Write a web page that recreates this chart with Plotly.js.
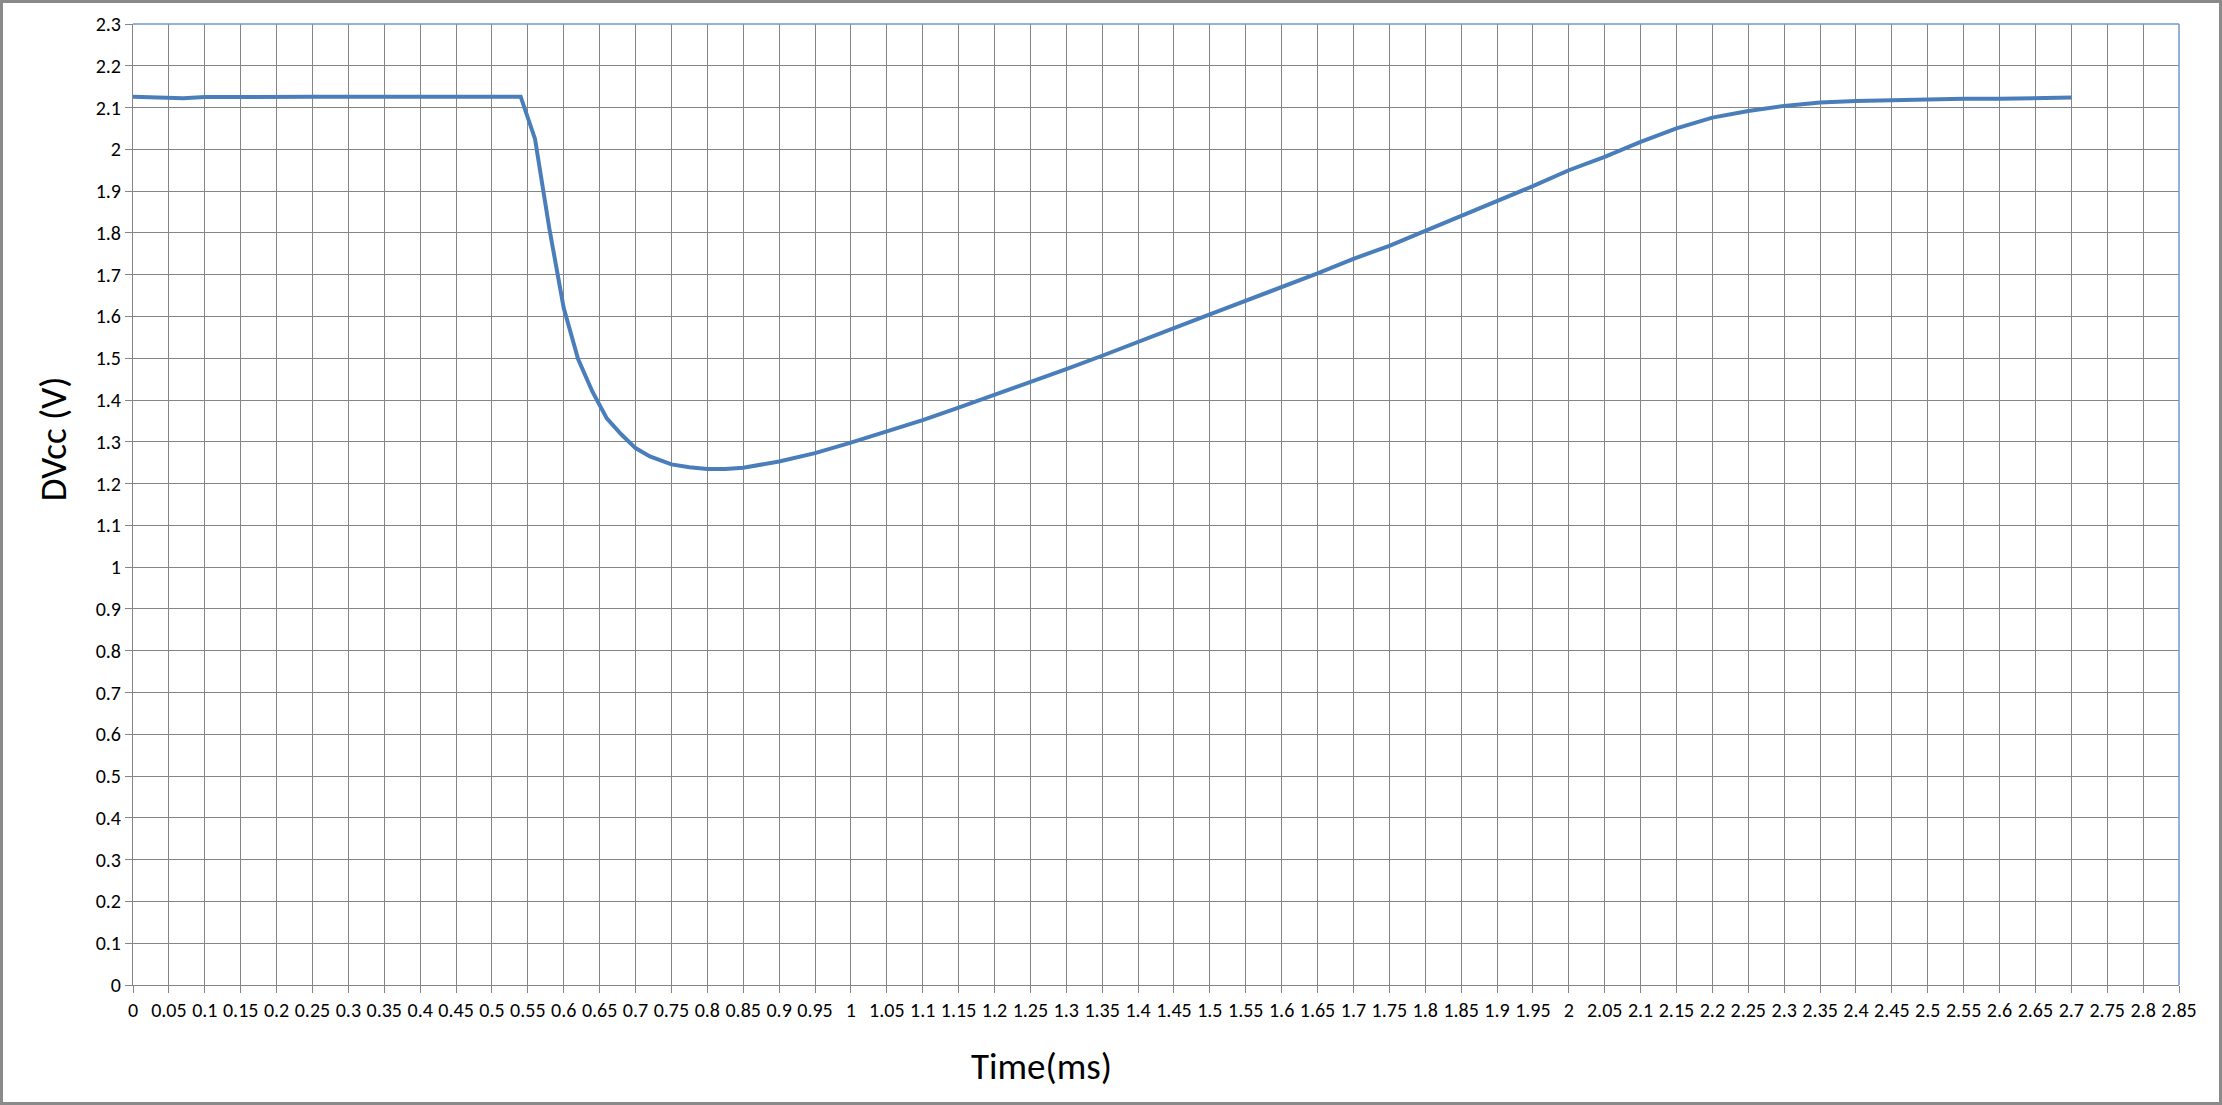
<!DOCTYPE html>
<html>
<head>
<meta charset="utf-8">
<script src="https://cdn.plot.ly/plotly-3.0.1.min.js"></script>
<style>
  html, body { margin: 0; padding: 0; background: #fff; }
  #wrap { position: relative; width: 2222px; height: 1105px; }
  #chart { width: 2222px; height: 1105px; }
  #frame { position: absolute; left: 0; top: 0; width: 2222px; height: 1105px;
           box-sizing: border-box; border: 3px solid #8a8a8a; pointer-events: none; }
</style>
</head>
<body>
<div id="wrap">
  <div id="chart"></div>
  <div id="frame"></div>
</div>
<script>
// Time axis (ms) and measured DVcc (V)
const time = [0, 0.03, 0.05, 0.07, 0.1, 0.15, 0.2, 0.25, 0.3, 0.35, 0.4, 0.45, 0.5, 0.54,
  0.56, 0.58, 0.6, 0.62, 0.64, 0.66, 0.68, 0.7, 0.72, 0.75, 0.775, 0.8, 0.825, 0.85, 0.9,
  0.95, 1.0, 1.05, 1.1, 1.15, 1.2, 1.25, 1.3, 1.35, 1.4, 1.45, 1.5, 1.55, 1.6, 1.65, 1.7,
  1.75, 1.8, 1.85, 1.9, 1.95, 2.0, 2.05, 2.1, 2.15, 2.2, 2.25, 2.3, 2.35, 2.4, 2.45, 2.5,
  2.55, 2.6, 2.65, 2.7];
const dvcc = [2.126, 2.125, 2.123, 2.122, 2.125, 2.126, 2.126, 2.126, 2.126, 2.126, 2.126, 2.126, 2.126, 2.126,
  2.025, 1.81, 1.62, 1.498, 1.42, 1.356, 1.318, 1.285, 1.265, 1.246, 1.239, 1.235, 1.235, 1.238, 1.253,
  1.273, 1.298, 1.324, 1.352, 1.382, 1.412, 1.443, 1.474, 1.506, 1.538, 1.572, 1.605, 1.637, 1.669, 1.703, 1.738,
  1.769, 1.805, 1.840, 1.877, 1.912, 1.950, 1.982, 2.018, 2.050, 2.076, 2.092, 2.104, 2.112, 2.116, 2.118, 2.121,
  2.121, 2.121, 2.123, 2.124];

const xTitle = "Time(ms)";
const yTitle = "DVcc (V)";
const xRange = [0, 2.85];
const yRange = [0, 2.3];

const FONT = "Carlito, Lato, 'Liberation Sans', sans-serif";
const GRID = "#858585";

const trace = {
  x: time, y: dvcc, type: "scatter", mode: "lines",
  line: { color: "#4a7ebb", width: 4 },
  hoverinfo: "x+y"
};

const layout = {
  width: 2222, height: 1105,
  margin: { l: 133, r: 43, t: 24, b: 120, pad: 0 },
  paper_bgcolor: "#fff", plot_bgcolor: "#fff",
  showlegend: false,
  font: { family: FONT, color: "#000", size: 20 },
  xaxis: {
    range: xRange, tickmode: "linear", tick0: 0, dtick: 0.05, tickangle: 0,
    showgrid: true, gridcolor: GRID, gridwidth: 1,
    showline: true, linecolor: GRID, linewidth: 1,
    ticks: "outside", ticklen: 7, tickcolor: GRID, tickwidth: 1,
    tickfont: { family: FONT, size: 20, color: "#000" },
    zeroline: false, fixedrange: true
  },
  yaxis: {
    range: yRange, tickmode: "linear", tick0: 0, dtick: 0.1,
    showgrid: true, gridcolor: GRID, gridwidth: 1,
    showline: true, linecolor: GRID, linewidth: 1,
    ticks: "outside", ticklen: 7, tickcolor: GRID, tickwidth: 1,
    tickfont: { family: FONT, size: 20, color: "#000" },
    zeroline: false, fixedrange: true
  },
  shapes: [
    { type: "line", xref: "paper", yref: "paper", x0: 0, x1: 1, y0: 1, y1: 1,
      line: { color: "#6f97cf", width: 1.5 } },
    { type: "line", xref: "paper", yref: "paper", x0: 1, x1: 1, y0: 0, y1: 1,
      line: { color: "#6f97cf", width: 1.5 } }
  ],
  annotations: [
    { text: xTitle, xref: "paper", yref: "paper", x: 0.4438, y: -0.0843,
      xanchor: "center", yanchor: "middle", showarrow: false,
      font: { family: FONT, size: 37, color: "#000" } },
    { text: yTitle, xref: "paper", yref: "paper", x: -0.0391, y: 0.568,
      xanchor: "center", yanchor: "middle", showarrow: false, textangle: -90,
      font: { family: FONT, size: 37, color: "#000" } }
  ]
};

Plotly.newPlot("chart", [trace], layout, { displayModeBar: false, staticPlot: false });
</script>
</body>
</html>
